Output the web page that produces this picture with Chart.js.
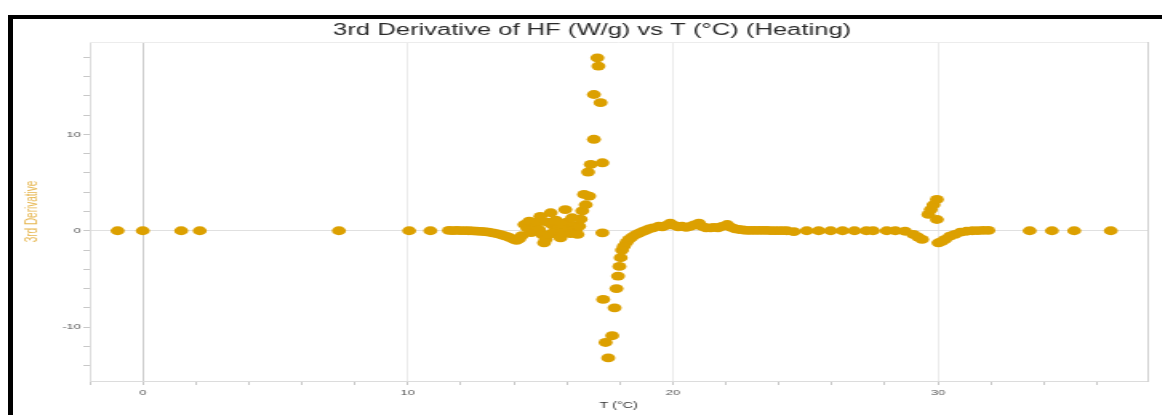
<!DOCTYPE html>
<html>
<head>
<meta charset="utf-8">
<title>3rd Derivative of HF vs T</title>
<script src="https://cdn.jsdelivr.net/npm/chart.js@4.4.0/dist/chart.umd.min.js"></script>
<style>
    html, body { margin: 0; padding: 0; background: #fff; overflow: hidden; }
    #frame {
        position: absolute; left: 8px; top: 15px;
        width: 1200px; height: 420px;
        border-left: 5px solid #000; border-top: 4px solid #000;
        background: #fff;
    }
    /* chart is laid out narrow, then widened */
    #deriv-chart { position: absolute; left: 0; top: 0; transform: scaleX(1.6); transform-origin: 0 0; }
</style>
</head>
<body>
<div id="frame">
    <canvas id="deriv-chart" width="724" height="400"></canvas>
</div>
<script>
// temperature (°C)
const tempC = [
    -0.95, 0, 1.45, 2.15, 7.4, 10.05, 10.85,
    11.55, 11.7, 11.85, 12.0, 12.15, 12.3, 12.45, 12.6, 12.75, 12.9,
    13.05, 13.2, 13.35, 13.5, 13.62, 13.75, 13.87, 14.0, 14.1, 14.2,
    14.3, 14.4, 14.5, 14.58, 14.65, 14.7, 14.8, 14.88, 14.95, 15.0,
    15.07, 15.14, 15.2, 15.27, 15.33, 15.39, 15.45, 15.52, 15.58, 15.64,
    15.7, 15.76, 15.82, 15.89, 15.94, 16.0, 16.08, 16.14, 16.2, 16.28,
    16.34, 16.4, 16.46, 16.52, 16.58, 16.65, 16.71, 16.84, 16.8,
    16.9, 17.02, 17.02, 17.15, 17.19, 17.27, 17.34, 17.34,
    17.37, 17.46, 17.56, 17.71, 17.8, 17.87, 17.93, 17.98, 18.03,
    18.08, 18.15, 18.25, 18.34, 18.45, 18.6, 18.72, 18.85, 18.97,
    19.1, 19.25, 19.47, 19.6, 19.75, 19.9, 20.05, 20.2, 20.34, 20.5,
    20.65, 20.8, 20.98, 21.1, 21.25, 21.42, 21.55, 21.7, 21.85, 22.05,
    22.2, 22.35, 22.49, 22.65, 22.8, 22.95, 23.1, 23.25, 23.4, 23.55,
    23.7, 23.85, 24.0, 24.15, 24.3,
    24.56, 25.05, 25.5, 25.95, 26.4, 26.85, 27.3, 27.55, 28.07, 28.39, 28.76,
    29.07, 29.25, 29.4, 29.64, 29.73, 29.83, 29.96, 29.96, 30.02, 30.15,
    30.27, 30.45, 30.64, 30.85, 31.08, 31.3, 31.5, 31.7, 31.9,
    33.46, 34.3, 35.14, 36.52
];

// 3rd derivative of heat flow
const deriv3 = [
    0, 0, 0, 0, 0, 0, 0,
    0.03, 0.02, 0.03, 0.02, 0.01, 0.0, -0.02, -0.04, -0.07, -0.1,
    -0.15, -0.22, -0.3, -0.4, -0.5, -0.62, -0.75, -0.9, -1.0, -0.85,
    -0.5, 0.65, 0.3, 1.0, -0.2, 0.13, 0.5, 0.9, 0.13, 1.5,
    -0.4, -1.25, -0.9, 0.9, -0.38, 1.87, 0.6, -0.1, 1.1, 0.3,
    0.48, -0.73, 0.2, -0.2, 2.2, 0.9, 0.2, -0.3, 1.35, 0.5,
    0.13, -0.38, 0.48, 1.2, 2.07, 3.77, 2.7, 3.6, 6.1,
    6.9, 9.5, 14.15, 17.96, 17.1, 13.3, 7.06, -0.21,
    -7.13, -11.6, -13.2, -10.9, -8.0, -6.0, -4.7, -3.7, -2.8,
    -2.0, -1.6, -1.2, -0.9, -0.65, -0.4, -0.25, -0.1, 0.05,
    0.2, 0.3, 0.48, 0.4, 0.55, 0.8, 0.55, 0.4, 0.48, 0.35,
    0.45, 0.6, 0.8, 0.45, 0.3, 0.3, 0.35, 0.3, 0.45, 0.65,
    0.35, 0.2, 0.13, 0.08, 0.05, 0.05, 0.04, 0.03, 0.03, 0.03,
    0.02, 0.02, 0.02, 0.01, 0.0,
    -0.1, 0, 0, 0, 0, 0, 0, 0, 0, 0, -0.05,
    -0.38, -0.65, -0.9, 1.7, 2.2, 2.7, 3.25, 1.17, -1.25, -1.1,
    -0.9, -0.55, -0.38, -0.15, -0.05, 0.0, 0.02, 0.03, 0.03,
    0, 0, 0, 0
];

// labelled ticks (minor ticks every 2 in between)
const xTickLabels = [0, 10, 20, 30];
const yTickLabels = [-10, 0, 10];

const pointColor = 'rgb(220, 160, 0)';
const fontFamily = '"Liberation Sans", Arial, sans-serif';
const frameColor = '#dcdcdc';

// top edge of the plot box (left, bottom and right come from the axes)
const plotTopEdge = {
    id: 'plotTopEdge',
    beforeDatasetsDraw(chart) {
        const { ctx, chartArea: a } = chart;
        ctx.save();
        ctx.strokeStyle = '#ececec';
        ctx.lineWidth = 1;
        ctx.beginPath();
        ctx.moveTo(a.left, a.top + 0.5);
        ctx.lineTo(a.right, a.top + 0.5);
        ctx.stroke();
        ctx.restore();
    }
};

function renderChart() {
    const ctx = document.getElementById('deriv-chart').getContext('2d');
    const points = tempC.map((t, i) => ({ x: t, y: deriv3[i] }));

    new Chart(ctx, {
        type: 'scatter',
        data: {
            datasets: [{
                label: '3rd Derivative',
                data: points,
                backgroundColor: pointColor,
                borderWidth: 0,
                pointRadius: 4.4,
                pointHoverRadius: 4.4
            }]
        },
        options: {
            responsive: false,
            animation: false,
            plugins: {
                legend: { display: false },
                tooltip: { enabled: false },
                title: {
                    display: true,
                    text: '3rd Derivative of HF (W/g) vs T (°C) (Heating)',
                    color: '#2a2a2a',
                    font: { family: fontFamily, size: 16, weight: 'normal' },
                    padding: { top: 2.4, bottom: 1.4 }
                }
            },
            scales: {
                x: {
                    type: 'linear',
                    min: -2,
                    max: 37.9,
                    afterFit: scale => { scale.height = 38; },
                    border: { color: frameColor },
                    grid: {
                        color: c => c.tick.value === 0 ? '#cdcdcd'
                            : xTickLabels.includes(c.tick.value) ? '#ebebeb' : 'rgba(0,0,0,0)',
                        tickColor: '#c8c8c8',
                        tickLength: 4
                    },
                    ticks: {
                        stepSize: 2,
                        maxTicksLimit: 100,
                        autoSkip: false,
                        includeBounds: false,
                        maxRotation: 0,
                        padding: 3,
                        color: '#555',
                        font: { family: fontFamily, size: 8 },
                        callback: v => xTickLabels.includes(v) ? v : ''
                    },
                    title: {
                        display: true,
                        text: 'T (°C)',
                        color: '#333',
                        font: { family: fontFamily, size: 9 },
                        padding: { top: 0, bottom: 7.6 }
                    }
                },
                y: {
                    type: 'linear',
                    min: -15.6,
                    max: 19.6,
                    afterFit: scale => { scale.width = 48; },
                    border: { color: frameColor },
                    grid: {
                        color: c => c.tick.value === 0 ? '#e0e0e0' : 'rgba(0,0,0,0)',
                        tickColor: '#c8c8c8',
                        tickLength: 4
                    },
                    ticks: {
                        stepSize: 2,
                        maxTicksLimit: 100,
                        autoSkip: false,
                        includeBounds: false,
                        padding: 1.5,
                        color: '#555',
                        font: { family: fontFamily, size: 8 },
                        callback: v => yTickLabels.includes(v) ? v : ''
                    },
                    title: {
                        display: true,
                        text: '3rd Derivative',
                        color: '#e6b650',
                        font: { family: fontFamily, size: 10 },
                        padding: { top: 6.5, bottom: 0 }
                    }
                },
                // empty right axis: gives the plot its right edge and margin
                yRight: {
                    type: 'linear',
                    position: 'right',
                    min: -15.6,
                    max: 19.6,
                    afterFit: scale => { scale.width = 15; },
                    border: { color: '#d0d0d0' },
                    grid: { drawOnChartArea: false, drawTicks: false },
                    ticks: { display: false }
                }
            }
        },
        plugins: [plotTopEdge]
    });
}

document.addEventListener('DOMContentLoaded', renderChart);
</script>
</body>
</html>
